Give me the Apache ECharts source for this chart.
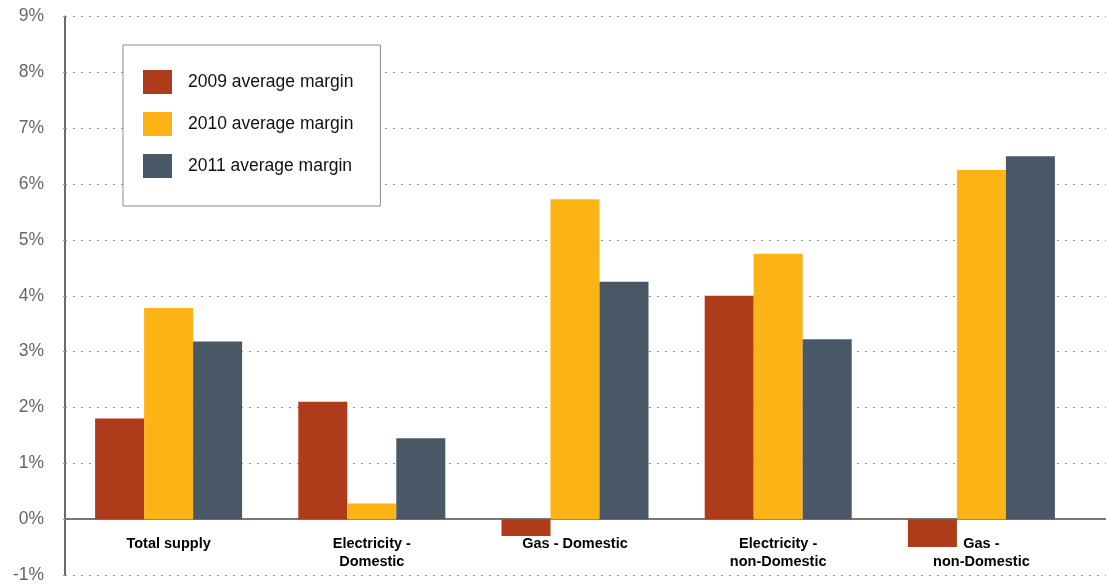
<!DOCTYPE html>
<html>
<head>
<meta charset="utf-8">
<script src="https://cdn.jsdelivr.net/npm/echarts@6/dist/echarts.min.js"></script>
<style>
  html, body { margin: 0; padding: 0; background: #fff; }
  #margins { width: 1106px; height: 588px; }
</style>
</head>
<body>
<div id="margins"></div>
<script>
// Average supply margins by segment, 2009-2011
(function() {
    const categories = [
      "Total supply",
      "Electricity -\nDomestic",
      "Gas - Domestic",
      "Electricity -\nnon-Domestic",
      "Gas -\nnon-Domestic"
    ];
    const seriesNames = ["2009 average margin", "2010 average margin", "2011 average margin"];
    const margin2009 = [1.8, 2.1, -0.3, 4.0, -0.5];
    const margin2010 = [3.78, 0.28, 5.73, 4.75, 6.25];
    const margin2011 = [3.18, 1.45, 4.25, 3.22, 6.5];
    const colors = ["#AE3C1A", "#FCB316", "#485866"];

    const font = "'Liberation Sans', Arial, Helvetica, sans-serif";

    const makeBar = (name, data, color) => ({
      name: name,
      type: "bar",
      xAxisIndex: 0,
      yAxisIndex: 1,
      data: data,
      barWidth: 49,
      barGap: "0%",
      itemStyle: { color: color },
      emphasis: { disabled: true }
    });

    const option = {
      animation: false,
      textStyle: { fontFamily: font },
      legend: {
        orient: "vertical",
        left: 123,
        top: 45,
        padding: [25, 27, 28, 20],
        itemWidth: 29,
        itemHeight: 24,
        itemGap: 18,
        icon: "rect",
        borderColor: "#8a8a8a",
        borderWidth: 1,
        backgroundColor: "#fff",
        data: seriesNames,
        textStyle: {
          fontSize: 17.5,
          color: "#111",
          fontFamily: font,
          padding: [0, 0, 0, 11]
        }
      },
      grid: [
        // bars
        { left: 67, right: 23, top: 16.5, bottom: 13, outerBoundsMode: "none", containLabel: false },
        // full-width background: gridlines, y axis, zero line
        { left: 65, right: 0, top: 16.5, bottom: 13, outerBoundsMode: "none", containLabel: false }
      ],
      xAxis: [
        {
          type: "category",
          gridIndex: 0,
          data: categories,
          position: "bottom",
          // labels sit just under the 0% line (one step above the -1% edge)
          offset: -56,
          axisLine: { show: false, onZero: false },
          axisTick: { show: false },
          axisLabel: {
            margin: 16,
            fontSize: 14.5,
            fontWeight: "bold",
            color: "#000",
            lineHeight: 18,
            interval: 0
          },
          z: 5
        },
        {
          type: "category",
          gridIndex: 1,
          data: categories,
          axisLine: { show: true, onZero: true, lineStyle: { color: "#777", width: 2 } },
          axisTick: { show: false },
          axisLabel: { show: false }
        }
      ],
      yAxis: [
        {
          type: "value",
          gridIndex: 1,
          position: "left",
          min: -1,
          max: 9,
          interval: 1,
          axisLine: { show: true, lineStyle: { color: "#6a6a6a", width: 2 } },
          axisLabel: {
            margin: 21,
            fontSize: 17.5,
            color: "#666",
            formatter: "{value}%"
          },
          axisTick: {
            show: true,
            length: 7,
            lineStyle: { color: "#999", type: [2, 6] }
          },
          splitLine: {
            show: true,
            lineStyle: { color: "#999", width: 1, type: [2, 6] }
          }
        },
        {
          type: "value",
          gridIndex: 0,
          min: -1,
          max: 9,
          interval: 1,
          show: false
        }
      ],
      series: [
        makeBar(seriesNames[0], margin2009, colors[0]),
        makeBar(seriesNames[1], margin2010, colors[1]),
        makeBar(seriesNames[2], margin2011, colors[2])
      ]
    };

    const chart = echarts.init(document.getElementById("margins"));
    chart.setOption(option);
    window.addEventListener("resize", () => chart.resize());
})();
</script>
</body>
</html>
